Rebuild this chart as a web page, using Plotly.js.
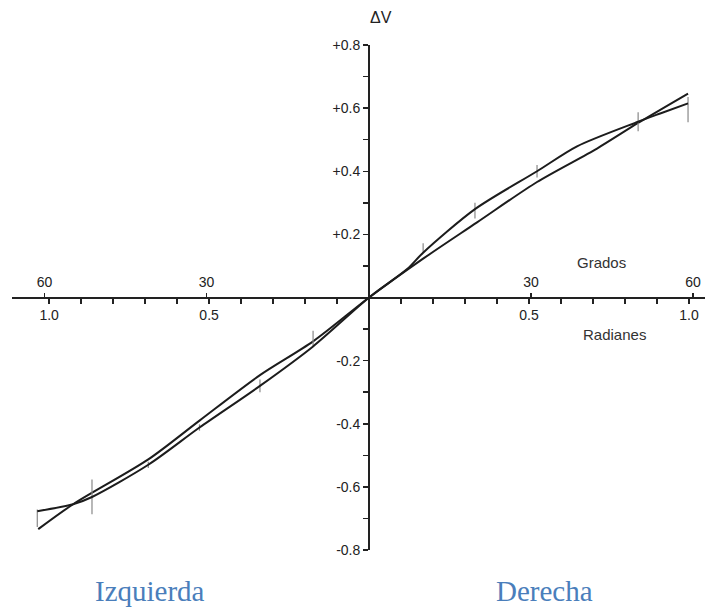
<!DOCTYPE html>
<html>
<head>
<meta charset="utf-8">
<script src="https://cdn.plot.ly/plotly-3.0.1.min.js"></script>
<style>html,body{margin:0;padding:0;background:#fff;}#chart{width:707px;height:610px;}</style>
</head>
<body>
<div id="chart"></div>
<script>
// Theoretical (near-straight) curve, x in radians, y = ΔV
const xTeo = [-1.034, -0.925, -0.69, -0.53, -0.341, -0.175, 0, 0.169, 0.3375, 0.525, 0.7125, 0.841, 0.997];
const yTeo = [-0.734, -0.655, -0.513, -0.39, -0.246, -0.139, 0, 0.123, 0.238, 0.366, 0.472, 0.553, 0.646];
// Experimental curve with error bars
const xExp = [-1.037, -0.925, -0.866, -0.69, -0.53, -0.341, -0.175, 0, 0.119, 0.169, 0.331, 0.525, 0.65, 0.841, 0.91, 0.997];
const yExp = [-0.677, -0.655, -0.632, -0.53, -0.412, -0.28, -0.155, 0, 0.09, 0.142, 0.28, 0.40, 0.479, 0.557, 0.583, 0.615];
const errPlus  = [0.005, 0, 0.055, 0.01, 0.01, 0.02, 0.05, 0, 0, 0.03, 0.02, 0.02, 0, 0.03, 0, 0.02];
const errMinus = [0.05, 0, 0.055, 0.01, 0.01, 0.02, 0, 0, 0, 0, 0.03, 0.02, 0, 0.03, 0, 0.06];

// Axis ticks
const radTicks = [-1.0,-0.9,-0.8,-0.7,-0.6,-0.5,-0.4,-0.3,-0.2,-0.1,0.1,0.2,0.3,0.4,0.5,0.6,0.7,0.8,0.9,1.0];
const radLabels = ["1.0","","","","","0.5","","","","","","","","","0.5","","","","","1.0"];
const degTicks = [-60, -30, 30, 60];
const degLabels = ["60", "30", "30", "60"];
const yTicks = [-0.8,-0.7,-0.6,-0.5,-0.4,-0.3,-0.2,-0.1,0.1,0.2,0.3,0.4,0.5,0.6,0.7,0.8];
const yLabels = ["-0.8","","-0.6","","-0.4","","-0.2","","","+0.2","","+0.4","","+0.6","","+0.8"];

const xRange = [-1.116, 1.05];
const degRange = [-66, 62.2];
const yRange = [-0.8, 0.8];

const axisFont = {family: "Liberation Sans, Arial, sans-serif", size: 14, color: "#222"};
const lineCol = "#1c1c1c";

const traces = [
  {x: xTeo, y: yTeo, type: "scatter", mode: "lines",
   line: {color: lineCol, width: 2, shape: "spline", smoothing: 0.8},
   hoverinfo: "skip", showlegend: false},
  {x: xExp, y: yExp, type: "scatter", mode: "lines",
   line: {color: lineCol, width: 2, shape: "spline", smoothing: 0.8},
   error_y: {type: "data", symmetric: false, array: errPlus, arrayminus: errMinus,
             color: "#888", thickness: 1.2, width: 0},
   hoverinfo: "skip", showlegend: false},
  {x: [0], y: [0], xaxis: "x2", type: "scatter", mode: "none", hoverinfo: "skip", showlegend: false}
];

const ann = (text, x, y, font) => ({text, xref: "paper", yref: "paper", x, y,
  xanchor: "center", yanchor: "middle", showarrow: false, font});
const sans = (size, color) => ({family: "Liberation Sans, Arial, sans-serif", size, color});
const serif = {family: "Liberation Serif, Times New Roman, serif", size: 29, color: "#4a7ebb"};

const layout = {
  width: 707, height: 610,
  margin: {l: 12, r: 2, t: 45, b: 60},
  paper_bgcolor: "#fff", plot_bgcolor: "#fff",
  showlegend: false,
  xaxis: {
    range: xRange, anchor: "free", position: 0.5,
    showline: true, linecolor: "#222", linewidth: 2,
    showgrid: false, zeroline: false,
    tickmode: "array", tickvals: radTicks, ticktext: radLabels,
    ticks: "outside", ticklen: 5, tickwidth: 1.5, tickcolor: "#222",
    tickfont: axisFont
  },
  xaxis2: {
    range: degRange, overlaying: "x", side: "top", anchor: "free", position: 0.5,
    showline: false, showgrid: false, zeroline: false,
    tickmode: "array", tickvals: degTicks, ticktext: degLabels,
    ticks: "outside", ticklen: 5, tickwidth: 1.5, tickcolor: "#222",
    tickfont: axisFont
  },
  yaxis: {
    range: yRange, anchor: "free",
    position: (0 - xRange[0]) / (xRange[1] - xRange[0]),
    showline: true, linecolor: "#222", linewidth: 2,
    showgrid: false, zeroline: false,
    tickmode: "array", tickvals: yTicks, ticktext: yLabels,
    ticks: "outside", ticklen: 5, tickwidth: 1.5, tickcolor: "#222",
    tickfont: axisFont
  },
  annotations: [
    ann("ΔV", 0.532, 1.055, sans(16, "#222")),
    ann("Grados", 0.85, 0.57, sans(15, "#333")),
    ann("Radianes", 0.869, 0.426, sans(15, "#333")),
    ann("Izquierda", 0.199, -0.081, serif),
    ann("Derecha", 0.768, -0.081, serif)
  ]
};

Plotly.newPlot("chart", traces, layout, {displayModeBar: false, staticPlot: true});
</script>
</body>
</html>
